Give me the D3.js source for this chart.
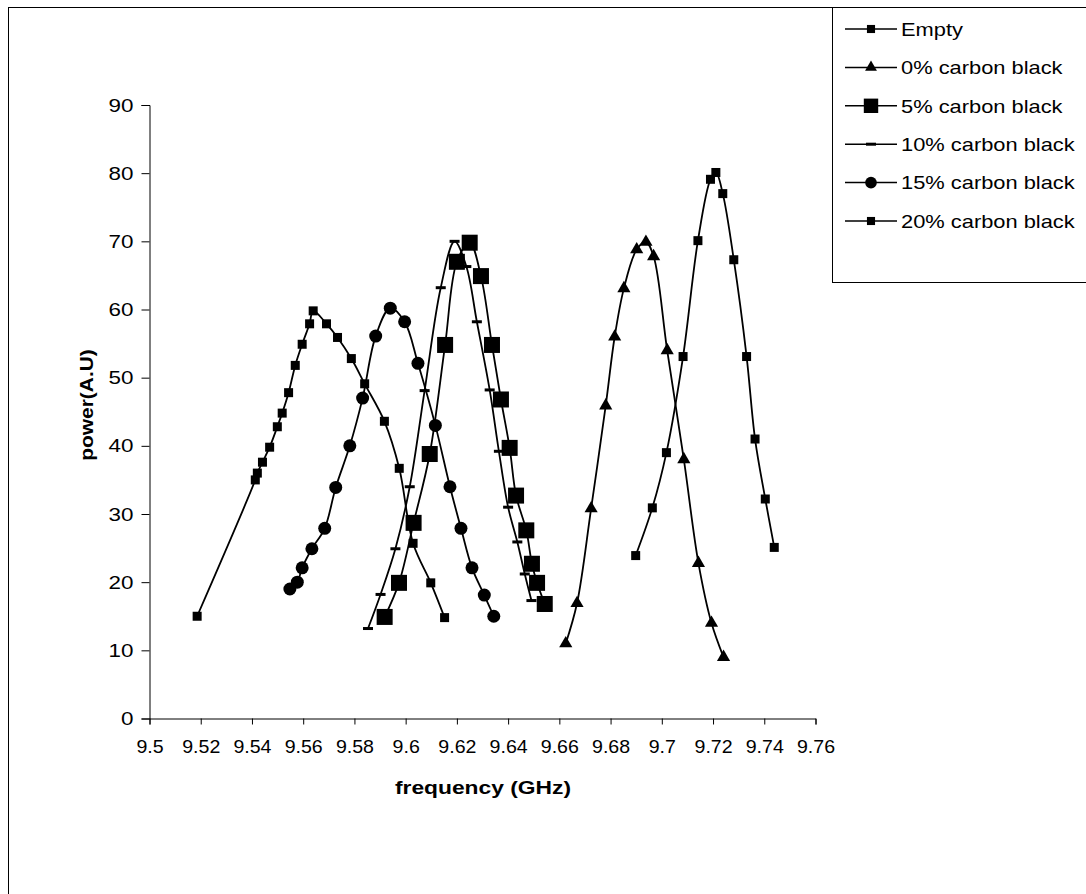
<!DOCTYPE html>
<html>
<head>
<meta charset="utf-8">
<script src="https://cdn.jsdelivr.net/npm/d3@7"></script>
<style>
  body { margin: 0; background: #fff; }
  svg { display: block; font-family: "Liberation Sans", Arial, sans-serif; }
</style>
</head>
<body>
<svg width="1086" height="894"></svg>
<script>
// series: frequency (GHz) and power (A.U)
var emptyFreq = [9.5186, 9.5413, 9.5421, 9.5441, 9.5469, 9.5499, 9.5518, 9.5543, 9.5569, 9.5596, 9.5625, 9.5639, 9.5691, 9.5734, 9.5788, 9.5840, 9.5917, 9.5975, 9.6029, 9.6098, 9.6152];
var emptyPower = [15, 35, 36, 37.6, 39.8, 42.8, 44.8, 47.8, 51.8, 54.9, 57.9, 59.8, 57.9, 55.9, 52.8, 49.1, 43.6, 36.7, 25.7, 19.9, 14.8];

var cb0Freq = [9.6625, 9.6669, 9.6724, 9.6781, 9.6816, 9.6852, 9.6902, 9.6938, 9.6968, 9.7021, 9.7086, 9.7143, 9.7194, 9.7241];
var cb0Power = [11, 16.9, 30.8, 45.9, 56, 63.1, 68.8, 69.9, 67.8, 54, 38, 22.8, 14, 9];

var cb5Freq = [9.5918, 9.5974, 9.6031, 9.6094, 9.6154, 9.6200, 9.6250, 9.6294, 9.6337, 9.6372, 9.6406, 9.6431, 9.6471, 9.6493, 9.6513, 9.6543];
var cb5Power = [14.9, 19.9, 28.7, 38.8, 54.8, 67, 69.8, 64.9, 54.8, 46.8, 39.7, 32.7, 27.6, 22.7, 19.9, 16.8];

var cb10Freq = [9.5853, 9.5902, 9.5960, 9.6016, 9.6074, 9.6137, 9.6191, 9.6237, 9.6278, 9.6328, 9.6364, 9.6400, 9.6436, 9.6465, 9.6491];
var cb10Power = [13.2, 18.2, 24.9, 34, 48.1, 63.2, 70, 66.3, 58.2, 48.2, 39.2, 31, 25.9, 21.2, 17.3];

var cb15Freq = [9.5548, 9.5577, 9.5596, 9.5634, 9.5684, 9.5727, 9.5782, 9.5832, 9.5883, 9.5940, 9.5996, 9.6048, 9.6116, 9.6173, 9.6216, 9.6259, 9.6307, 9.6344];
var cb15Power = [19, 20, 22.1, 24.9, 27.9, 33.9, 40, 47, 56.1, 60.2, 58.2, 52.1, 43, 34, 27.9, 22.1, 18.1, 15];

var cb20Freq = [9.6898, 9.6963, 9.7018, 9.7083, 9.7141, 9.7190, 9.7211, 9.7238, 9.7281, 9.7331, 9.7364, 9.7404, 9.7439];
var cb20Power = [23.9, 30.9, 39, 53.1, 70.1, 79.1, 80.1, 77, 67.3, 53.1, 41, 32.2, 25.1];

var seriesNames = ["Empty", "0% carbon black", "5% carbon black", "10% carbon black", "15% carbon black", "20% carbon black"];
var xTicks = [9.5, 9.52, 9.54, 9.56, 9.58, 9.6, 9.62, 9.64, 9.66, 9.68, 9.7, 9.72, 9.74, 9.76];
var yTicks = [0, 10, 20, 30, 40, 50, 60, 70, 80, 90];

var svg = d3.select("svg");
var width = +svg.attr("width");
var height = +svg.attr("height");

var markers = ["smallSquare", "triangle", "bigSquare", "dash", "circle", "smallSquare"];

var series = [
  [emptyFreq, emptyPower],
  [cb0Freq, cb0Power],
  [cb5Freq, cb5Power],
  [cb10Freq, cb10Power],
  [cb15Freq, cb15Power],
  [cb20Freq, cb20Power]
].map(function(s, i) {
  return {
    name: seriesNames[i],
    marker: markers[i],
    values: s[0].map(function(f, j) { return { freq: f, power: s[1][j] }; })
  };
});

var xScale = d3.scaleLinear().domain([9.5, 9.76]).range([149.5, 815.5]);
var yScale = d3.scaleLinear().domain([0, 90]).range([718.5, 105]);

// the original text is drawn a little wide, so stretch it
function stretch(sel, k) {
  sel.each(function() {
    var w = this.getComputedTextLength();
    d3.select(this)
      .attr("textLength", w * k)
      .attr("lengthAdjust", "spacingAndGlyphs");
  });
}

// outer frame
svg.append("rect")
  .attr("x", 8.5).attr("y", 7.5)
  .attr("width", width).attr("height", height)
  .attr("fill", "none").attr("stroke", "#000").attr("stroke-width", 1);

var xAxis = d3.axisBottom(xScale)
  .tickValues(xTicks)
  .tickFormat(d3.format("~g"))
  .tickSizeOuter(0)
  .tickSize(6);

var yAxis = d3.axisLeft(yScale)
  .tickValues(yTicks)
  .tickSizeOuter(0)
  .tickSize(8);

var gx = svg.append("g")
  .attr("transform", "translate(0," + yScale(0) + ")")
  .call(xAxis);

var gy = svg.append("g")
  .attr("transform", "translate(" + xScale(9.5) + ",0)")
  .call(yAxis);

[gx, gy].forEach(function(g) {
  g.select(".domain").attr("stroke", "#000").attr("stroke-width", 1);
  g.selectAll(".tick line").attr("stroke", "#000");
  g.selectAll(".tick text")
    .attr("fill", "#000")
    .style("font-size", "19px")
    .style("font-family", "Liberation Sans, Arial, sans-serif");
});
gx.selectAll(".tick text").attr("y", 34).attr("dy", null);
gy.selectAll(".tick text").attr("x", -16);
stretch(gx.selectAll(".tick text"), 1.03);
stretch(gy.selectAll(".tick text"), 1.18);

svg.append("text")
  .text("frequency (GHz)")
  .attr("x", 483)
  .attr("y", 794)
  .style("text-anchor", "middle")
  .style("font-size", "19px")
  .style("font-weight", "bold")
  .call(stretch, 1.2);

svg.append("text")
  .text("power(A.U)")
  .attr("transform", "translate(93,405) rotate(-90)")
  .style("text-anchor", "middle")
  .style("font-size", "19px")
  .style("font-weight", "bold")
  .call(stretch, 1.1);

var line = d3.line()
  .x(d => xScale(d.freq))
  .y(d => yScale(d.power))
  .curve(d3.curveCatmullRom.alpha(0.5));

function drawMarker(sel, type, k) {
  if (type === "circle") {
    sel.append("circle").attr("r", 6.5 * k).attr("fill", "#000");
  } else if (type === "smallSquare") {
    sel.append("rect").attr("x", -4.5 * k).attr("y", -4.5 * k).attr("width", 9 * k).attr("height", 9 * k).attr("fill", "#000");
  } else if (type === "bigSquare") {
    sel.append("rect").attr("x", -8 * k).attr("y", -8 * k).attr("width", 16 * k).attr("height", 16 * k).attr("fill", "#000");
  } else if (type === "dash") {
    sel.append("rect").attr("x", -5).attr("y", -1.5).attr("width", 10).attr("height", 3).attr("fill", "#000");
  } else if (type === "triangle") {
    sel.append("path").attr("d", d3.symbol(d3.symbolTriangle, 75 * k * k)).attr("fill", "#000");
  }
}

var seriesG = svg.selectAll(".series")
  .data(series)
  .enter()
  .append("g")
    .attr("class", "series");

seriesG.append("path")
  .attr("d", d => line(d.values))
  .attr("fill", "none")
  .attr("stroke", "#000")
  .attr("stroke-width", 1.8);

seriesG.each(function(s) {
  d3.select(this).selectAll(".pt")
    .data(s.values)
    .enter()
    .append("g")
      .attr("class", "pt")
      .attr("transform", d => "translate(" + xScale(d.freq) + "," + yScale(d.power) + ")")
      .each(function() { drawMarker(d3.select(this), s.marker, 1); });
});

// legend
svg.append("rect")
  .attr("x", 832.5).attr("y", 7.5)
  .attr("width", 300).attr("height", 275)
  .attr("fill", "#fff").attr("stroke", "#000").attr("stroke-width", 1);

var legend = svg.selectAll(".legend")
  .data(series)
  .enter()
  .append("g")
    .attr("class", "legend")
    .attr("transform", (d, i) => "translate(845," + (29 + i * 38.4) + ")");

legend.append("line")
  .attr("x1", 0).attr("x2", 52)
  .attr("stroke", "#000").attr("stroke-width", 1.5);

legend.append("g")
  .attr("transform", "translate(26,0)")
  .each(function(d) { drawMarker(d3.select(this), d.marker, 0.9); });

legend.append("text")
  .text(d => d.name)
  .attr("x", 56)
  .attr("dy", "0.36em")
  .style("font-size", "19px")
  .call(stretch, 1.15);
</script>
</body>
</html>
